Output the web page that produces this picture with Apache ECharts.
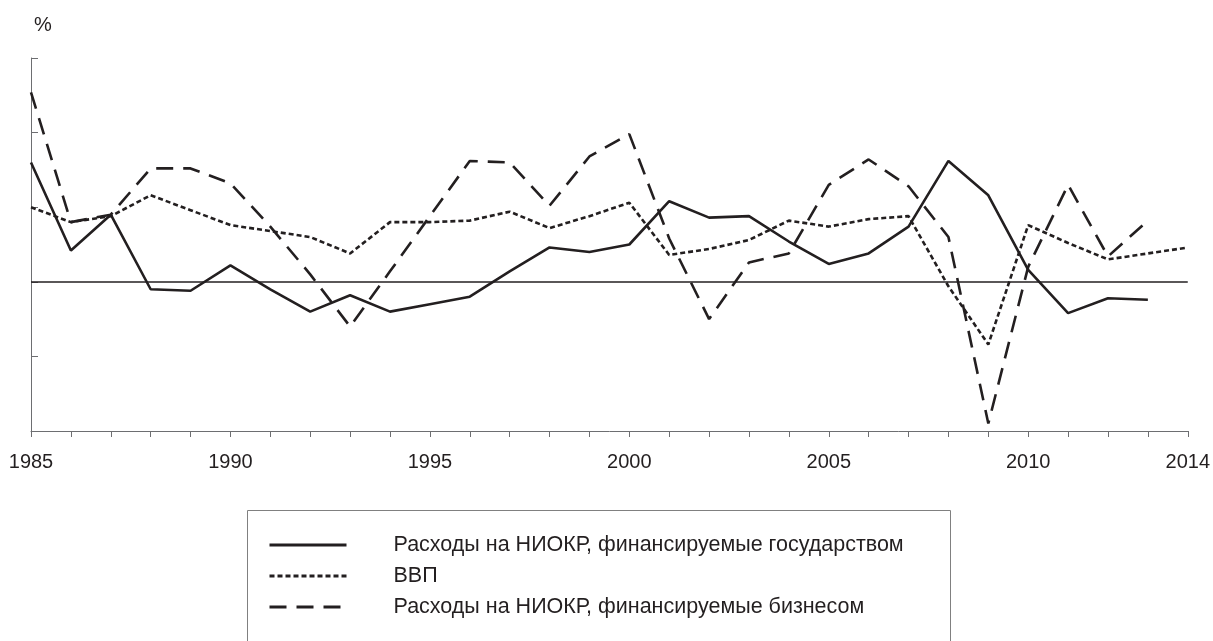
<!DOCTYPE html>
<html>
<head>
    <meta charset="utf-8">
    <title>Расходы на НИОКР и ВВП</title>
    <script src="https://cdn.jsdelivr.net/npm/echarts@6/dist/echarts.min.js"></script>
</head>
<body style="margin:0">
<div id="main" style="width: 1213px;height:641px;"></div>
<script type="text/javascript">
    // годы по оси X
    var years = ['1985', '1986', '1987', '1988', '1989', '1990', '1991', '1992', '1993', '1994',
        '1995', '1996', '1997', '1998', '1999', '2000', '2001', '2002', '2003', '2004',
        '2005', '2006', '2007', '2008', '2009', '2010', '2011', '2012', '2013', '2014'];

    // темпы прироста, %
    var govRnd = [8.0, 2.1, 4.5, -0.5, -0.6, 1.1, -0.5, -2.0, -0.9, -2.0,
        -1.5, -1.0, 0.7, 2.3, 2.0, 2.5, 5.4, 4.3, 4.4, 2.7,
        1.2, 1.9, 3.7, 8.1, 5.8, 0.8, -2.1, -1.1, -1.2, null];
    var gdp = [5.0, 4.0, 4.4, 5.8, 4.8, 3.8, 3.4, 3.0, 1.9, 4.0,
        4.0, 4.1, 4.7, 3.6, 4.4, 5.3, 1.8, 2.2, 2.8, 4.1,
        3.7, 4.2, 4.4, -0.3, -4.2, 3.8, 2.6, 1.5, 1.9, 2.3];
    var bizRnd = [12.7, 4.0, 4.5, 7.6, 7.6, 6.6, 3.7, 0.5, -3.0, 0.7,
        4.4, 8.1, 8.0, 5.1, 8.4, 9.9, 2.9, -2.5, 1.3, 1.9,
        6.5, 8.2, 6.4, 3.0, -9.5, 1.0, 6.5, 1.7, 4.1, null];

    var names = ['Расходы на НИОКР, финансируемые государством', 'ВВП',
        'Расходы на НИОКР, финансируемые бизнесом'];

    var ink = '#231f20';
    var axisGray = '#6d6e71';
    var font = '"Liberation Sans", Arial, sans-serif';

    var myChart = echarts.init(document.getElementById('main'));

    myChart.setOption({
        animation: false,
        textStyle: {fontFamily: font},
        grid: {left: 31, right: 21, top: 58, bottom: 210},
        // рамка легенды (низ уходит за край картинки)
        graphic: [{
            type: 'rect',
            shape: {x: 247.5, y: 510.5, width: 703, height: 200},
            style: {fill: 'none', stroke: '#808080', lineWidth: 1}
        }],
        legend: {
            orient: 'vertical',
            left: 268,
            top: 534,
            padding: 0,
            itemWidth: 77,
            itemHeight: 20,
            itemGap: 9,
            // маркер скрыт, остаётся только линия
            itemStyle: {opacity: 0},
            lineStyle: {width: 3},
            textStyle: {fontSize: 21.5, color: ink, lineHeight: 20, padding: [0, 0, 0, 42]},
            data: names
        },
        xAxis: {
            type: 'category',
            data: years,
            boundaryGap: false,
            axisLine: {onZero: false, lineStyle: {color: axisGray, width: 1}},
            axisTick: {
                interval: 0,
                length: 6,
                lineStyle: {color: axisGray}
            },
            axisLabel: {
                interval: function (i, v) {
                    return i % 5 === 0 || v === '2014';
                },
                margin: 21,
                fontSize: 20,
                color: ink
            },
            splitLine: {show: false}
        },
        yAxis: {
            type: 'value',
            min: -10,
            max: 15,
            interval: 5,
            name: '%',
            nameLocation: 'end',
            nameGap: 23,
            nameTextStyle: {fontSize: 20, color: ink, align: 'left', padding: [0, 0, 0, 3]},
            axisLine: {show: true, lineStyle: {color: axisGray, width: 1}},
            axisTick: {show: true, inside: true, length: 7, lineStyle: {color: axisGray}},
            axisLabel: {show: false},
            splitLine: {show: false}
        },
        series: [
            {
                name: names[0],
                type: 'line',
                data: govRnd,
                showSymbol: false,
                lineStyle: {color: ink, width: 2.6, type: 'solid'},
                itemStyle: {color: ink},
                markLine: {
                    silent: true,
                    symbol: 'none',
                    label: {show: false},
                    lineStyle: {color: ink, width: 1.5, type: 'solid'},
                    data: [{yAxis: 0}]
                }
            },
            {
                name: names[1],
                type: 'line',
                data: gdp,
                showSymbol: false,
                lineStyle: {color: ink, width: 2.6, type: [5, 3]},
                itemStyle: {color: ink}
            },
            {
                name: names[2],
                type: 'line',
                data: bizRnd,
                showSymbol: false,
                lineStyle: {color: ink, width: 2.6, type: [17, 10]},
                itemStyle: {color: ink}
            }
        ]
    });
</script>
</body>
</html>
